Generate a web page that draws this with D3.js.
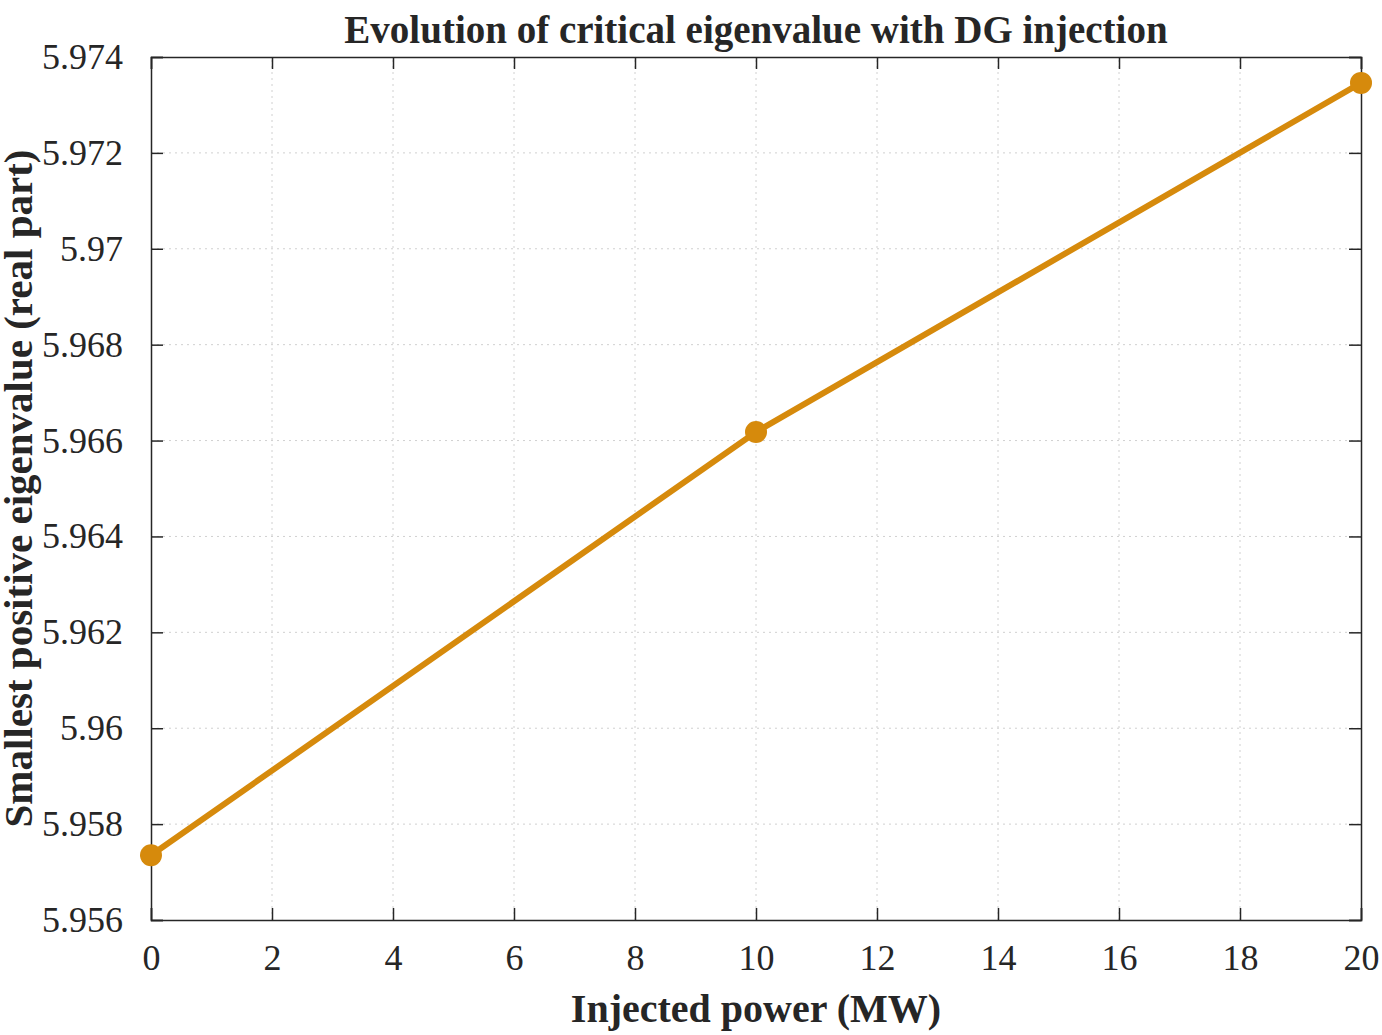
<!DOCTYPE html>
<html>
<head>
<meta charset="UTF-8">
<title>critical eigenvalue</title>
<style>
  body { margin: 0; background: #fff; }
  text { font-family: "Liberation Serif", "Times New Roman", serif; fill: #262626; }
</style>
</head>
<body>
<script src="https://cdn.jsdelivr.net/npm/d3@7"></script>
<script>
  let width = 1382
  let height = 1035
  let margin = { left: 151, right: 21, top: 57, bottom: 115 }

  // data
  let power = [0, 10, 20]
  let eigen = [5.95735, 5.96618, 5.97346]
  let xTicks = [0, 2, 4, 6, 8, 10, 12, 14, 16, 18, 20]
  let yTicks = [5.956, 5.958, 5.96, 5.962, 5.964, 5.966, 5.968, 5.97, 5.972, 5.974]
  let lineColor = '#d68a0c'

  let x = d3.scaleLinear().domain([0, 20]).range([margin.left, width - margin.right])
  let y = d3.scaleLinear().domain([5.956, 5.974]).range([height - margin.bottom, margin.top])

  let svg = d3.select('body').append('svg')
    .attr('width', width).attr('height', height)

  // grid
  svg.append('g').selectAll('line').data(xTicks.slice(1, -1)).enter().append('line')
    .attr('x1', d => x(d)).attr('x2', d => x(d))
    .attr('y1', y.range()[0]).attr('y2', y.range()[1])
    .attr('stroke', '#d0d0d0').attr('stroke-dasharray', '2,4')
  svg.append('g').selectAll('line').data(yTicks.slice(1, -1)).enter().append('line')
    .attr('y1', d => y(d)).attr('y2', d => y(d))
    .attr('x1', x.range()[0]).attr('x2', x.range()[1])
    .attr('stroke', '#d0d0d0').attr('stroke-dasharray', '2,4')

  let fmt = d => String(+d.toFixed(3))
  let tl = 12
  let axB = svg.append('g').attr('transform', `translate(0,${y.range()[0]})`)
    .call(d3.axisBottom(x).tickValues(xTicks).tickSize(-tl).tickPadding(24).tickFormat(d => d))
  let axT = svg.append('g').attr('transform', `translate(0,${y.range()[1]})`)
    .call(d3.axisTop(x).tickValues(xTicks).tickSize(-tl).tickFormat(''))
  let axL = svg.append('g').attr('transform', `translate(${x.range()[0]},0)`)
    .call(d3.axisLeft(y).tickValues(yTicks).tickSize(-tl).tickPadding(28).tickFormat(fmt))
  let axR = svg.append('g').attr('transform', `translate(${x.range()[1]},0)`)
    .call(d3.axisRight(y).tickValues(yTicks).tickSize(-tl).tickFormat(''))
  ;[axB, axT, axL, axR].forEach(a => {
    a.selectAll('path').attr('stroke', '#262626').attr('stroke-width', 1.5)
    a.selectAll('line').attr('stroke', '#262626').attr('stroke-width', 1.5)
    a.selectAll('text').style('font-size', '36px').attr('fill', '#262626')
  })

  let pts = power.map((p, i) => [p, eigen[i]])
  svg.append('path').datum(pts)
    .attr('d', d3.line().x(d => x(d[0])).y(d => y(d[1])))
    .attr('fill', 'none').attr('stroke', lineColor).attr('stroke-width', 6)
  svg.selectAll('circle').data(pts).enter().append('circle')
    .attr('cx', d => x(d[0])).attr('cy', d => y(d[1])).attr('r', 11)
    .attr('fill', lineColor)

  svg.append('text').attr('x', (x.range()[0] + x.range()[1]) / 2).attr('y', 43)
    .attr('text-anchor', 'middle').style('font-size', '39px').style('font-weight', 'bold')
    .attr('fill', '#000').text('Evolution of critical eigenvalue with DG injection')
  svg.append('text').attr('x', (x.range()[0] + x.range()[1]) / 2).attr('y', 1022)
    .attr('text-anchor', 'middle').style('font-size', '40px').style('font-weight', 'bold')
    .text('Injected power (MW)')
  svg.append('text')
    .attr('transform', `translate(32,${(y.range()[0] + y.range()[1]) / 2}) rotate(-90)`)
    .attr('text-anchor', 'middle').style('font-size', '41px').style('font-weight', 'bold')
    .text('Smallest positive eigenvalue (real part)')
</script>
</body>
</html>
